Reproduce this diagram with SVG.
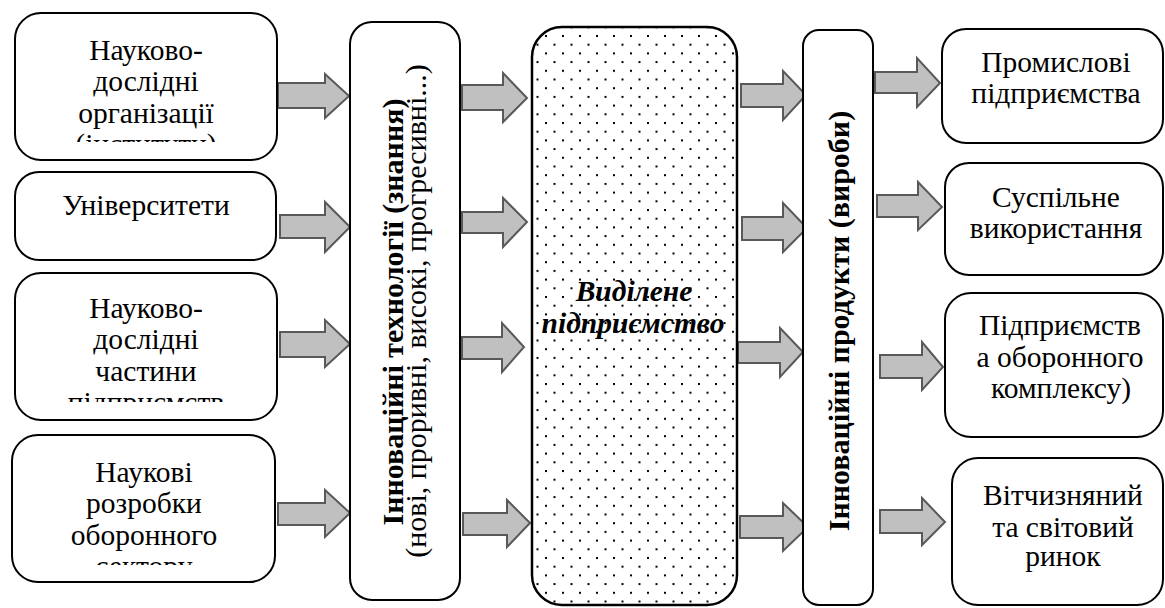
<svg xmlns="http://www.w3.org/2000/svg" width="1165" height="608" viewBox="0 0 1165 608" font-family="'Liberation Serif', 'Times New Roman', serif">
<style>
.box{fill:#fff;stroke:#000;stroke-width:2}
.t{font-family:Liberation Serif,Times New Roman,serif;font-size:29.5px;fill:#000;text-anchor:middle}
.v{font-size:30px}
.b{font-weight:bold}
.bi{font-weight:bold;font-style:italic}
.arr{fill:#c0c0c0;stroke:#595959;stroke-width:2;stroke-linejoin:miter}
</style>
<defs>
<pattern id="dots" patternUnits="userSpaceOnUse" x="545" y="35" width="17" height="17.4">
<rect x="0" y="0" width="2" height="2" fill="#000"/>
<rect x="8.5" y="8.7" width="2" height="2" fill="#000"/>
</pattern>
<clipPath id="c1"><rect x="15" y="13" width="262" height="129"/></clipPath>
<clipPath id="c3"><rect x="15" y="273" width="262" height="129"/></clipPath>
<clipPath id="c4"><rect x="12" y="435" width="263" height="130"/></clipPath>
</defs>

<g id="connectors">
<path class="arr" d="M278,83 L325,83 L325,74 L349,96 L325,118 L325,108 L278,108 Z"/>
<path class="arr" d="M280,215 L325,215 L325,202 L350,227 L325,252 L325,238 L280,238 Z"/>
<path class="arr" d="M280,332 L325,332 L325,320 L350,344 L325,367 L325,357 L280,357 Z"/>
<path class="arr" d="M278,503 L325,503 L325,490 L350,513 L325,537 L325,525 L278,525 Z"/>

<path class="arr" d="M462,85 L503,85 L503,73 L527,98 L503,122 L503,110 L462,110 Z"/>
<path class="arr" d="M462,212 L503,212 L503,198 L527,222 L503,247 L503,233 L462,233 Z"/>
<path class="arr" d="M462,337 L502,337 L502,323 L524,347 L502,372 L502,359 L462,359 Z"/>
<path class="arr" d="M463,513 L507,513 L507,500 L530,523 L507,547 L507,535 L463,535 Z"/>

<path class="arr" d="M741,84 L783,84 L783,71 L806,95 L783,120 L783,107 L741,107 Z"/>
<path class="arr" d="M742,217 L783,217 L783,203 L807,228 L783,252 L783,240 L742,240 Z"/>
<path class="arr" d="M738,342 L780,342 L780,328 L803,352 L780,377 L780,363 L738,363 Z"/>
<path class="arr" d="M740,516 L783,516 L783,503 L808,527 L783,551 L783,538 L740,538 Z"/>

<path class="arr" d="M875,72 L917,72 L917,58 L940,83 L917,107 L917,93 L875,93 Z"/>
<path class="arr" d="M877,195 L918,195 L918,182 L942,207 L918,230 L918,217 L877,217 Z"/>
<path class="arr" d="M880,355 L922,355 L922,342 L943,367 L922,390 L922,378 L880,378 Z"/>
<path class="arr" d="M880,510 L922,510 L922,498 L945,522 L922,545 L922,533 L880,533 Z"/>
</g>

<g id="node-research-orgs">
<rect class="box" x="15" y="13" width="262" height="147" rx="26"/>
<g clip-path="url(#c1)">
<text class="t" x="146" y="60">Науково-</text>
<text class="t" x="146" y="91.3">дослідні</text>
<text class="t" x="146" y="122.6">організації</text>
<text class="t" x="146" y="153.9">(інститути)</text>
</g>
</g>

<g id="node-universities">
<rect class="box" x="15" y="172" width="261" height="88" rx="24"/>
<text class="t" x="146" y="215">Університети</text>
</g>

<g id="node-research-units">
<rect class="box" x="15" y="273" width="262" height="147" rx="26"/>
<g clip-path="url(#c3)">
<text class="t" x="146" y="318">Науково-</text>
<text class="t" x="146" y="349.3">дослідні</text>
<text class="t" x="146" y="380.6">частини</text>
<text class="t" x="146" y="411.9">підприємств</text>
</g>
</g>

<g id="node-defense-research">
<rect class="box" x="12" y="435" width="263" height="147" rx="26"/>
<g clip-path="url(#c4)">
<text class="t" x="144" y="482">Наукові</text>
<text class="t" x="144" y="513.3">розробки</text>
<text class="t" x="144" y="544.6">оборонного</text>
<text class="t" x="144" y="575.9">сектору</text>
</g>
</g>

<g id="node-innov-tech">
<rect class="box" x="350" y="22" width="110" height="578" rx="22"/>
<text class="t v b" transform="translate(403,312) rotate(-90)">Інноваційні технології (знання)</text>
<text class="t v" transform="translate(426,311) rotate(-90)">(нові, проривні, високі, прогресивні...)</text>
</g>

<g id="node-enterprise">
<rect x="532" y="27" width="205" height="578" rx="30" fill="#fff"/>
<rect x="532" y="27" width="205" height="578" rx="30" fill="url(#dots)" stroke="#000" stroke-width="2.5"/>
<text class="t bi" x="634" y="301">Виділене</text>
<text class="t bi" x="633" y="333">підприємство</text>
</g>

<g id="node-innov-products">
<rect class="box" x="803" y="30" width="70" height="575" rx="16"/>
<text class="t v b" transform="translate(849,321) rotate(-90)">Інноваційні продукти (вироби)</text>
</g>

<g id="node-industrial">
<rect class="box" x="942" y="29" width="221" height="114" rx="24"/>
<text class="t" x="1056" y="72">Промислові</text>
<text class="t" x="1056" y="103">підприємства</text>
</g>

<g id="node-public">
<rect class="box" x="945" y="163" width="218" height="112" rx="24"/>
<text class="t" x="1056" y="207">Суспільне</text>
<text class="t" x="1056" y="238">використання</text>
</g>

<g id="node-defense-enterprises">
<rect class="box" x="945" y="293" width="218" height="144" rx="26"/>
<text class="t" x="1060" y="335">Підприємств</text>
<text class="t" x="1060" y="367">а оборонного</text>
<text class="t" x="1061" y="398">комплексу)</text>
</g>

<g id="node-market">
<rect class="box" x="952" y="458" width="211" height="147" rx="26"/>
<text class="t" x="1063" y="505">Вітчизняний</text>
<text class="t" x="1063" y="537">та світовий</text>
<text class="t" x="1063" y="566">ринок</text>
</g>
</svg>
